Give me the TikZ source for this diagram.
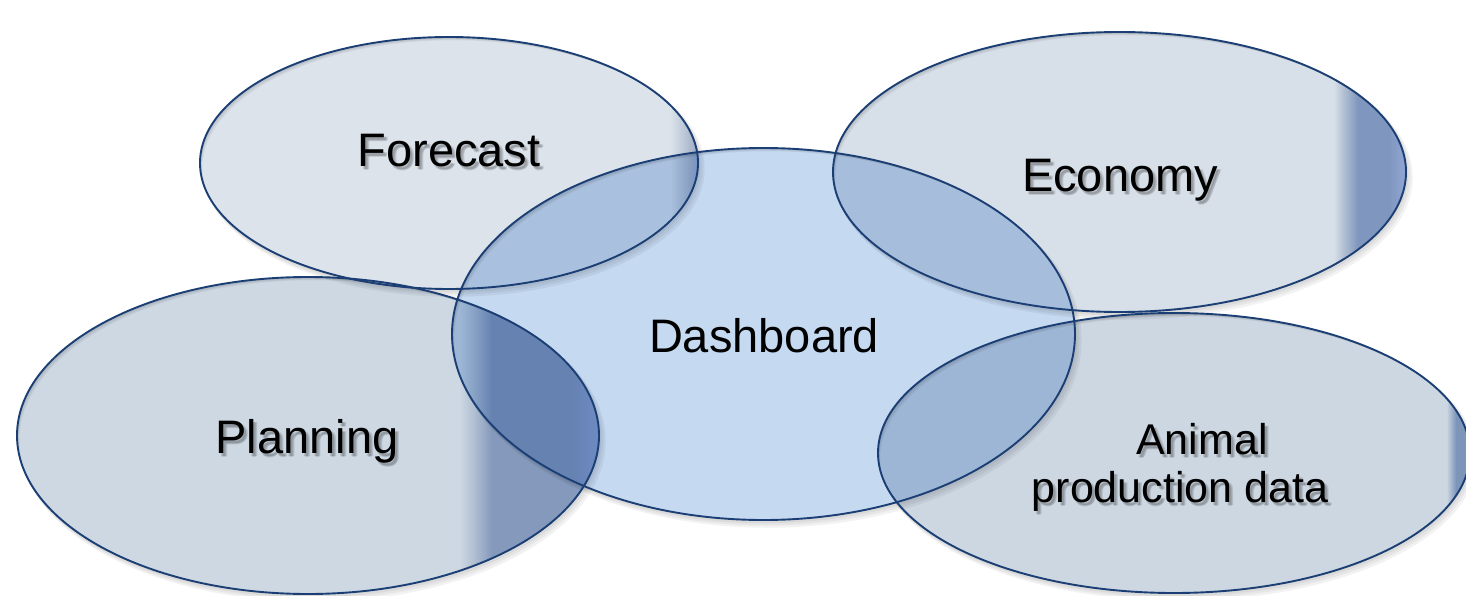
\documentclass[tikz,border=0pt]{standalone}
\usepackage{fontspec}
\setmainfont{Liberation Sans}

% fills and outlines
\definecolor{edgeblue}{HTML}{1B3F74}
\definecolor{dashfill}{HTML}{C5D9F1}
\definecolor{fcbase}{HTML}{DCE3EB}
\definecolor{fcdark}{HTML}{AEBACC}
\definecolor{fcrim}{HTML}{9AAAD2}
\definecolor{ecbase}{HTML}{D7DFE8}
\definecolor{ecmid}{HTML}{B4C1D3}
\definecolor{ecdark}{HTML}{7F97BE}
\definecolor{ecrim}{HTML}{93A6D4}
\definecolor{plbase}{HTML}{CDD8E3}
\definecolor{plmid}{HTML}{B2C0D2}
\definecolor{pldark}{HTML}{8499BC}
\definecolor{plrim}{HTML}{8FA3CF}
\definecolor{anbase}{HTML}{CDD7E2}
\definecolor{andark}{HTML}{7E95BA}

% horizontal fills with a darker band towards the right rim
% (the path's width is mapped onto 25bp..75bp)
\pgfdeclarehorizontalshading{forecastfill}{100bp}{color(0bp)=(fcbase); color(72.2bp)=(fcbase); color(74.2bp)=(fcdark); color(75bp)=(fcrim); color(100bp)=(fcrim)}
\pgfdeclarehorizontalshading{economyfill}{100bp}{color(0bp)=(ecbase); color(68.7bp)=(ecbase); color(69.5bp)=(ecmid); color(70.8bp)=(ecdark); color(73.5bp)=(ecdark); color(75bp)=(ecrim); color(100bp)=(ecrim)}
\pgfdeclarehorizontalshading{planningfill}{100bp}{color(0bp)=(plbase); color(63bp)=(plbase); color(64.2bp)=(plmid); color(65.8bp)=(pldark); color(72.5bp)=(pldark); color(75bp)=(plrim); color(100bp)=(plrim)}
\pgfdeclarehorizontalshading{animalfill}{100bp}{color(0bp)=(anbase); color(73bp)=(anbase); color(73.8bp)=(andark); color(100bp)=(andark)}

\tikzset{
  outline/.style={draw=edgeblue, line width=1.9pt},
  lbl/.style={font=\fontsize{47}{56}\selectfont, inner sep=0pt, anchor=base, text=black},
  smalllbl/.style={font=\fontsize{43}{48}\selectfont, inner sep=0pt, anchor=center, align=center, text=black},
}

% soft drop shadow: a few faint crescents below/right of an ellipse
\newcommand\blobshadow[3]{% centre, x radius, y radius
  \foreach \o in {1.5,3,4.5}
    \fill[black, opacity=0.05, even odd rule]
      ([shift={(\o,\o+1)}]#1) ellipse [x radius=#2+\o/2, y radius=#3+\o/2]
      (#1) ellipse [x radius=#2, y radius=#3];
}

% label with a blurred shadow under it
\newcommand\softlabel[5]{% name, x, y, style, text
  \foreach \dx/\dy [count=\k] in {2/3,3/4,4/3}
    \node[#4, text opacity=0.11] (#1-sh\k) at (#2+\dx,#3+\dy) {#5};
  \node[#4] (#1) at (#2,#3) {#5};
}

\begin{document}
\begin{tikzpicture}[x=1pt, y=-1pt]
  \useasboundingbox (0,0) rectangle (1466,596);
  \fill[white] (0,0) rectangle (1466,596);

  \coordinate (forecast-c)  at (449,163);
  \coordinate (economy-c)   at (1119.5,172);
  \coordinate (dashboard-c) at (763.5,334);
  \coordinate (planning-c)  at (308,435.5);
  \coordinate (animal-c)    at (1174,453);

  \begin{scope}[blend group=multiply]
    \blobshadow{forecast-c}{249}{126}
    \blobshadow{economy-c}{286.5}{140}
    \blobshadow{dashboard-c}{311.5}{186}
    \blobshadow{planning-c}{291}{158.5}
    \blobshadow{animal-c}{296}{140}

    \fill[dashfill] (dashboard-c) ellipse [x radius=311.5, y radius=186];
    \shade[shading=forecastfill] (forecast-c) ellipse [x radius=249, y radius=126];
    \shade[shading=economyfill] (economy-c) ellipse [x radius=286.5, y radius=140];
    \shade[shading=planningfill] (planning-c) ellipse [x radius=291, y radius=158.5];
    \shade[shading=animalfill] (animal-c) ellipse [x radius=296, y radius=140];
  \end{scope}

  \draw[outline] (dashboard-c) ellipse [x radius=311.5, y radius=186];
  \draw[outline] (forecast-c) ellipse [x radius=249, y radius=126];
  \draw[outline] (economy-c) ellipse [x radius=286.5, y radius=140];
  \draw[outline] (planning-c) ellipse [x radius=291, y radius=158.5];
  \draw[outline] (animal-c) ellipse [x radius=296, y radius=140];

  \softlabel{forecast}{449}{167}{lbl}{Forecast}
  \softlabel{economy}{1120}{192}{lbl}{Economy}
  \softlabel{planning}{307}{453}{lbl}{Planning}
  \softlabel{animal}{1180}{467}{smalllbl}{\hspace*{44pt}Animal\\production data}
  \node[lbl] (dashboard) at (764,352) {Dashboard};
\end{tikzpicture}
\end{document}
